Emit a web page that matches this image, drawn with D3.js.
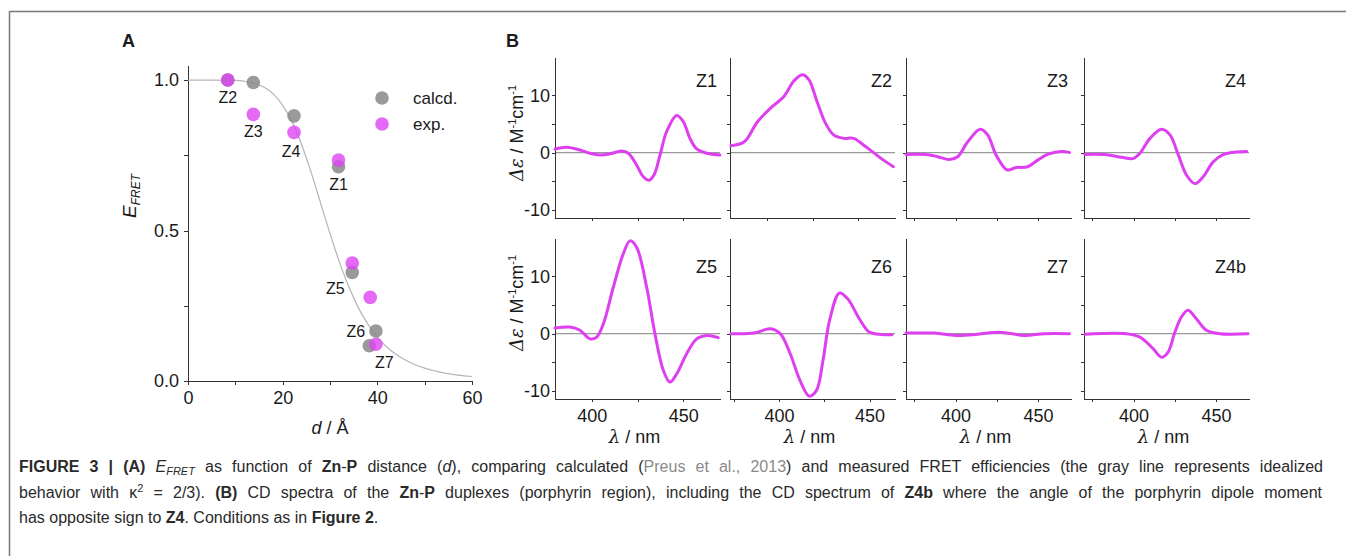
<!DOCTYPE html>
<html>
<head>
<meta charset="utf-8">
<script src="https://cdn.jsdelivr.net/npm/d3@7"></script>
<style>
  body { margin: 0; background: #fff; }
  svg text { font-family: "Liberation Sans", Arial, sans-serif; fill: #1a1a1a; }
  .axis path, .axis line { stroke: #333; shape-rendering: crispEdges; }
</style>
</head>
<body>
<svg id="fig"></svg>
<script>
var width = 1346, height = 556;

// ---- panel A data: FRET efficiency vs distance
var fretLabels = ["Z1", "Z2", "Z3", "Z4", "Z5", "Z6", "Z7"];
var calcdD = [31.8, 8.4, 13.8, 22.4, 34.7, 39.7, 38.3];
var calcdE = [0.712, 1.0, 0.992, 0.881, 0.361, 0.166, 0.117];
var expD = [31.8, 8.4, 13.8, 22.4, 34.7, 38.5, 39.7];
var expE = [0.734, 1.0, 0.886, 0.826, 0.392, 0.278, 0.122];

// idealized gray line
var idealD = [0, 5, 10, 12, 14, 16, 18, 20, 22, 24, 26, 28, 30, 32, 34, 36, 38, 40, 42, 44, 46, 48, 50, 52, 54, 56, 58, 60];
var idealE = [1.0, 1.0, 0.999, 0.996, 0.989, 0.977, 0.954, 0.916, 0.861, 0.786, 0.694, 0.592, 0.49, 0.395, 0.312, 0.243, 0.189, 0.146, 0.113, 0.088, 0.069, 0.054, 0.043, 0.034, 0.027, 0.022, 0.018, 0.015];

// ---- panel B data: CD spectra (nm, delta epsilon)
var cdNames = ["Z1", "Z2", "Z3", "Z4", "Z5", "Z6", "Z7", "Z4b"];
var z1Nm = [380, 386.4, 393.6, 399, 404.5, 410, 416.4, 420, 424.5, 428.2, 431.3, 434, 437.3, 440.9, 446.4, 450, 453.6, 457.3, 462.7, 470];
var z1De = [0.65, 0.95, 0.47, -0.1, -0.4, -0.2, 0.3, -0.1, -2.15, -4.2, -4.8, -3.9, -0.4, 3.7, 6.5, 5.4, 2.5, 0.65, -0.1, -0.4];
var z2Nm = [380.5, 387.8, 395, 402.2, 409.4, 414.8, 419.4, 423, 427.5, 432, 436.5, 441.9, 447.4, 452.8, 458.2, 463.7, 469.1];
var z2De = [1.2, 1.9, 5.4, 7.8, 9.8, 12.5, 13.6, 12.75, 8.9, 5.2, 3.1, 2.5, 2.5, 1.35, 0.05, -1.3, -2.45];
var z3Nm = [370, 383.2, 389.2, 396.2, 401.3, 407.4, 415, 419.5, 424.5, 431.2, 436.7, 443.7, 449.8, 455.8, 463.9, 469];
var z3De = [-0.3, -0.35, -0.7, -1.2, -0.7, 1.9, 4.1, 3.1, -0.35, -3.0, -2.6, -2.45, -1.3, -0.3, 0.2, 0.05];
var z4Nm = [370.6, 383.7, 392.8, 399.9, 403.9, 410, 417, 422.1, 427.1, 432.1, 437.2, 442.2, 448.3, 454.3, 460.4, 468.5];
var z4De = [-0.3, -0.35, -0.8, -1.0, -0.1, 2.5, 4.1, 3.1, -0.35, -3.9, -5.4, -4.2, -1.6, -0.35, 0.05, 0.2];
var z5Nm = [380, 388.2, 393.6, 399.1, 402.7, 406.4, 411.8, 417.3, 420.9, 424.5, 430, 434.5, 439.1, 442.7, 446.4, 451.8, 457.3, 462.7, 469];
var z5De = [1.0, 1.15, 0.6, -0.9, -0.6, 1.75, 8.1, 14.0, 16.2, 15.1, 8.1, 0, -6.4, -8.45, -7.0, -3.5, -0.9, -0.3, -0.7];
var z6Nm = [373.5, 386.2, 395.3, 400.7, 406.2, 411.6, 416.7, 420.7, 424.3, 427.9, 433.4, 437.9, 444.3, 449.7, 455.2, 462.4];
var z6De = [0, 0.1, 0.85, 0, -3.5, -8.15, -10.9, -9.9, -4.65, 2.3, 7.1, 6.1, 2.6, 0.3, -0.1, -0.2];
var z7Nm = [370, 387.2, 400.3, 413.5, 426.6, 441.7, 453.8, 469];
var z7De = [0.1, 0.1, -0.3, -0.1, 0.25, -0.3, 0, 0];
var z4bNm = [370.6, 395.8, 403.9, 411.9, 417, 421, 425, 429, 433, 438.1, 444.2, 452.2, 469.4];
var z4bDe = [-0.1, 0, -0.6, -2.6, -4.1, -3.2, 0.2, 2.9, 4.1, 2.6, 0.6, 0, 0];

var cdDomains = [[380, 470], [380, 470], [370, 470], [370, 470], [380, 470], [373, 464], [370, 470], [370, 470]];
var cdYTicks = [-10, -5, 0, 5, 10];
var cdXTicks = [375, 400, 425, 450];

var purple = "#de3ff0", gray = "#888";

var svg = d3.select("#fig").attr("width", width).attr("height", height);

// frame lines
svg.append("line").attr("x1", 9.5).attr("x2", width).attr("y1", 11.5).attr("y2", 11.5)
  .attr("stroke", "#777").attr("stroke-width", 1.5);
svg.append("line").attr("x1", 9.5).attr("x2", 9.5).attr("y1", 11).attr("y2", height)
  .attr("stroke", "#777").attr("stroke-width", 1.5);

// panel letters
svg.append("text").attr("x", 122).attr("y", 47).attr("font-size", 18).attr("font-weight", "bold").text("A");
svg.append("text").attr("x", 506).attr("y", 47).attr("font-size", 18).attr("font-weight", "bold").text("B");

// ================= Panel A
var xA = d3.scaleLinear().domain([0, 60]).range([188, 472]);
var yA = d3.scaleLinear().domain([0, 1.05]).range([381, 65]);

var gA = svg.append("g");

gA.append("g").attr("class", "axis").attr("transform", "translate(0,381)")
  .call(d3.axisBottom(xA).tickValues([0, 10, 20, 30, 40, 50, 60]).tickSize(4).tickSizeOuter(0)
    .tickFormat(function(d){ return d % 20 === 0 ? d : ""; }))
  .call(function(g){
    g.selectAll("text").attr("font-size", 18).attr("dy", "0.9em").attr("fill", "#1a1a1a");
  });

gA.append("g").attr("class", "axis").attr("transform", "translate(188,0)")
  .call(d3.axisLeft(yA).tickValues([0, 0.25, 0.5, 0.75, 1.0]).tickSize(4).tickSizeOuter(0)
    .tickFormat(function(d){ return (d * 2) % 1 === 0 ? d3.format(".1f")(d) : ""; }))
  .call(function(g){
    g.selectAll("text").attr("font-size", 18).attr("x", -9).attr("fill", "#1a1a1a");
  });

var idealPts = idealD.map(function(d, i){ return [d, idealE[i]]; });
gA.append("path").datum(idealPts)
  .attr("fill", "none").attr("stroke", "#b5b5b5").attr("stroke-width", 1.2)
  .attr("d", d3.line().x(function(d){ return xA(d[0]); }).y(function(d){ return yA(d[1]); }).curve(d3.curveMonotoneX));

var calcdPts = fretLabels.map(function(l, i){ return {label: l, d: calcdD[i], e: calcdE[i]}; });
var expPts = fretLabels.map(function(l, i){ return {label: l, d: expD[i], e: expE[i]}; });

gA.selectAll("circle.calcd").data(calcdPts).enter().append("circle")
  .attr("class", "calcd")
  .attr("cx", function(d){ return xA(d.d); }).attr("cy", function(d){ return yA(d.e); })
  .attr("r", 6.8).attr("fill", gray).attr("fill-opacity", 0.85);

gA.selectAll("circle.exp").data(expPts).enter().append("circle")
  .attr("class", "exp")
  .attr("cx", function(d){ return xA(d.d); }).attr("cy", function(d){ return yA(d.e); })
  .attr("r", 6.8).attr("fill", "#dd44f2").attr("fill-opacity", 0.8);

// label offsets from the calcd dots
var labelOff = {Z1: [0, 23], Z2: [0, 23], Z3: [0, 55], Z4: [-3, 41], Z5: [-17, 22], Z6: [-20, 6], Z7: [15, 22]};
gA.selectAll("text.zl").data(calcdPts).enter().append("text")
  .attr("class", "zl")
  .attr("x", function(d){ return xA(d.d) + labelOff[d.label][0]; })
  .attr("y", function(d){ return yA(d.e) + labelOff[d.label][1]; })
  .attr("text-anchor", "middle").attr("font-size", 16)
  .text(function(d){ return d.label; });

// legend
var legA = gA.append("g");
legA.append("circle").attr("cx", 382).attr("cy", 98).attr("r", 6.8).attr("fill", gray).attr("fill-opacity", 0.85);
legA.append("text").attr("x", 413).attr("y", 104).attr("font-size", 17).text("calcd.");
legA.append("circle").attr("cx", 382).attr("cy", 124).attr("r", 6.8).attr("fill", "#dd44f2").attr("fill-opacity", 0.8);
legA.append("text").attr("x", 413).attr("y", 130).attr("font-size", 17).text("exp.");

// axis titles
var xtA = gA.append("text").attr("x", 330).attr("y", 434).attr("text-anchor", "middle").attr("font-size", 18);
xtA.append("tspan").attr("font-style", "italic").text("d");
xtA.append("tspan").text(" / Å");

var ytA = gA.append("text").attr("transform", "translate(136,196) rotate(-90)").attr("text-anchor", "middle").attr("font-size", 19);
ytA.append("tspan").attr("font-style", "italic").text("E");
ytA.append("tspan").attr("font-style", "italic").attr("font-size", 12).attr("dy", 4).text("FRET");

// ================= Panel B
var colLeft = [555, 730, 906, 1084], panelW = 165;
var rowTop = [57, 238], panelH = 161;
var cdNmArr = [z1Nm, z2Nm, z3Nm, z4Nm, z5Nm, z6Nm, z7Nm, z4bNm];
var cdDeArr = [z1De, z2De, z3De, z4De, z5De, z6De, z7De, z4bDe];

cdNames.forEach(function(name, i){
  var row = Math.floor(i / 4), col = i % 4;
  var x0 = colLeft[col], y0 = rowTop[row];
  var x = d3.scaleLinear().domain(cdDomains[i]).range([x0, x0 + panelW]);
  var y = d3.scaleLinear().domain([-11.4, 16.7]).range([y0 + panelH, y0]);
  var g = svg.append("g");

  // zero line
  g.append("line").attr("x1", x0).attr("x2", x0 + panelW).attr("y1", y(0)).attr("y2", y(0))
    .attr("stroke", "#999").attr("stroke-width", 1.2);

  var ticks = cdXTicks.filter(function(t){ return t >= cdDomains[i][0] && t <= cdDomains[i][1]; });
  g.append("g").attr("class", "axis").attr("transform", "translate(0," + (y0 + panelH) + ")")
    .call(d3.axisBottom(x).tickValues(ticks).tickSize(3).tickSizeOuter(0)
      .tickFormat(function(d){ return (row === 1 && d % 50 === 0) ? d : ""; }))
    .call(function(a){
      a.selectAll("text").attr("font-size", 18).attr("dy", "0.95em").attr("fill", "#1a1a1a");
    });

  g.append("g").attr("class", "axis").attr("transform", "translate(" + x0 + ",0)")
    .call(d3.axisLeft(y).tickValues(cdYTicks).tickSize(3).tickSizeOuter(0)
      .tickFormat(function(d){ return (col === 0 && d % 10 === 0) ? String(d) : ""; }))
    .call(function(a){
      a.selectAll("text").attr("font-size", 18).attr("x", -5).attr("fill", "#1a1a1a");
    });

  var pts = cdNmArr[i].map(function(n, j){ return [n, cdDeArr[i][j]]; });
  g.append("path").datum(pts)
    .attr("fill", "none").attr("stroke", purple).attr("stroke-width", 3)
    .attr("stroke-linejoin", "round").attr("stroke-linecap", "round")
    .attr("d", d3.line().x(function(d){ return x(d[0]); }).y(function(d){ return y(d[1]); })
      .curve(d3.curveCatmullRom.alpha(0.5)));

  g.append("text").attr("x", x0 + panelW - 3).attr("y", row === 0 ? 87 : 273)
    .attr("text-anchor", "end").attr("font-size", 18).text(name);

  if (row === 1) {
    var xt = g.append("text").attr("x", x0 + panelW / 2 - 3).attr("y", 443)
      .attr("text-anchor", "middle").attr("font-size", 18);
    xt.append("tspan").attr("font-style", "italic").attr("font-family", "DejaVu Serif").text("λ");
    xt.append("tspan").text(" / nm");
  }
  if (col === 0) {
    var cy = row === 0 ? 133 : 303;
    var yt = g.append("text").attr("transform", "translate(523," + cy + ") rotate(-90)")
      .attr("text-anchor", "middle").attr("font-size", 18);
    yt.append("tspan").attr("font-style", "italic").attr("font-family", "DejaVu Serif").text("Δε");
    yt.append("tspan").text(" / M");
    yt.append("tspan").attr("font-size", 11).attr("dy", -7).text("-1");
    yt.append("tspan").attr("dy", 7).text("cm");
    yt.append("tspan").attr("font-size", 11).attr("dy", -7).text("-1");
  }
});

// ================= Caption
var capLines = [
  [["FIGURE 3 | (A) ", "b"], ["E", "i"], ["FRET", "sub"], [" as function of ", ""], ["Zn", "b"], ["-", ""], ["P", "b"],
   [" distance (", ""], ["d", "i"], ["), comparing calculated (", ""], ["Preus et al., 2013", "link"],
   [") and measured FRET efficiencies (the gray line represents idealized", ""]],
  [["behavior with κ", ""], ["2", "sup"], [" = 2/3). ", ""], ["(B)", "b"], [" CD spectra of the ", ""], ["Zn", "b"], ["-", ""], ["P", "b"],
   [" duplexes (porphyrin region), including the CD spectrum of ", ""], ["Z4b", "b"],
   [" where the angle of the porphyrin dipole moment", ""]],
  [["has opposite sign to ", ""], ["Z4", "b"], [". Conditions as in ", ""], ["Figure 2", "b"], [".", ""]]
];
var capY = [472, 498, 523];
var capWidths = [1304, 1303, null];   // first two lines are justified
var capSize = 16;

capLines.forEach(function(segs, li){
  var t = svg.append("text").attr("x", 19).attr("y", capY[li]).attr("font-size", capSize).attr("fill", "#2a2a2a");
  segs.forEach(function(s){
    var ts = t.append("tspan").text(s[0]).attr("fill", "#2a2a2a");
    if (s[1] === "b") ts.attr("font-weight", "bold");
    if (s[1] === "i") ts.attr("font-style", "italic");
    if (s[1] === "link") ts.attr("fill", "#8a8a8a");
    if (s[1] === "sub") ts.attr("font-style", "italic").attr("font-size", 11).attr("dy", 3);
    if (s[1] === "sup") ts.attr("font-size", 11).attr("dy", -6);
  });
  // put baseline back after sub/sup
  t.selectAll("tspan").each(function(d, k){
    if (k > 0) {
      var prev = segs[k - 1][1];
      if (prev === "sub") d3.select(this).attr("dy", -3);
      if (prev === "sup") d3.select(this).attr("dy", 6);
    }
  });
  if (capWidths[li]) {
    var w = t.node().getComputedTextLength();
    var spaces = segs.map(function(s){ return s[0]; }).join("").split(" ").length - 1;
    if (w > 0 && spaces > 0 && w < capWidths[li]) {
      t.attr("word-spacing", (capWidths[li] - w) / spaces);
      var w2 = t.node().getComputedTextLength();
      if (Math.abs(w2 - capWidths[li]) > 4) {
        t.attr("word-spacing", null).attr("textLength", capWidths[li]).attr("lengthAdjust", "spacing");
      }
    } else if (w > capWidths[li]) {
      t.attr("textLength", capWidths[li]).attr("lengthAdjust", "spacingAndGlyphs");
    }
  }
});
</script>
</body>
</html>
